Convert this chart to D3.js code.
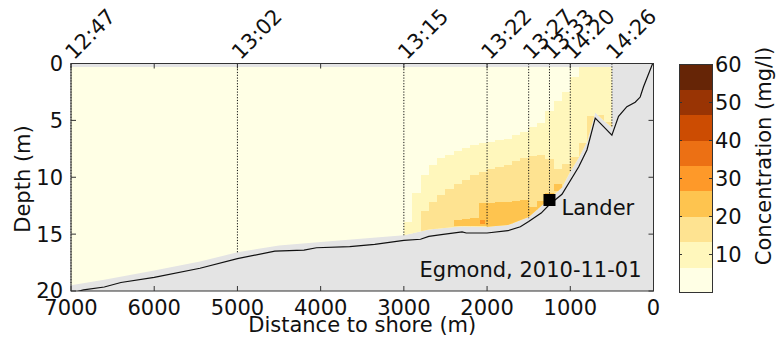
<!DOCTYPE html>
<html>
<head>
<meta charset="utf-8">
<script src="https://cdn.jsdelivr.net/npm/d3@7"></script>
<style>
  html, body { margin: 0; background: #fff; }
  svg { display: block; font-family: "DejaVu Sans", Verdana, sans-serif; }
</style>
</head>
<body>
<svg id="chart" width="777" height="345"></svg>
<script>
/* Egmond cross-shore transect: concentration field, bed, ship tracks. */

// colour classes (mg/l)
const levels = [0, 6.67, 13.33, 20, 26.67, 33.33, 40, 46.67, 53.33, 60];
const levelColors = ['#ffffe5', '#fff7bc', '#fee391', '#fec44f', '#fe9929',
  '#ec7014', '#cc4c02', '#993404', '#662506'];
const cbTicks = [10, 20, 30, 40, 50, 60];

const xTicks = [7000, 6000, 5000, 4000, 3000, 2000, 1000, 0];
const yTicks = [0, 5, 10, 15, 20];

// bathymetry
const bedDist = [7000, 6850, 6600, 6400, 6000, 5450, 5000, 4550, 4200, 4050, 3650, 3350,
  3000, 2800, 2700, 2550, 2300, 2250, 2000, 1750, 1600, 1500, 1350, 1250, 1100, 900,
  800, 700, 600, 500, 420, 320, 220, 160, 120, 10, 0];
const bedDepth = [20.2, 19.9, 19.65, 19.25, 18.8, 18.0, 17.15, 16.5, 16.4, 16.2, 16.1, 15.9,
  15.55, 15.45, 15.2, 15.05, 14.8, 14.9, 14.9, 14.7, 14.35, 13.9, 13.15, 12.4, 11.5, 9.1,
  7.6, 4.8, 5.55, 6.3, 4.65, 3.8, 3.4, 2.95, 2.05, 0, 0];

// lowest measured depth (field ends a little above the bed)
const fieldTop = 0.3;
const botDist = [7000, 6600, 6000, 5450, 5000, 4500, 4000, 3000, 2700, 2300, 2000, 1750,
  1500, 1250, 1100, 1000, 900, 800, 700, 600, 500];
const botDepth = [19.5, 19.0, 18.2, 17.4, 16.6, 16.0, 15.7, 15.1, 14.6, 14.3, 14.35, 14.2,
  13.5, 11.9, 10.9, 9.5, 8.3, 6.9, 4.3, 5.0, 5.6];

// profile columns (centre distance), depth where each class starts
const colDist = [2950, 2850, 2750, 2650, 2550, 2450, 2350, 2250, 2150, 2050, 1950, 1850,
  1750, 1650, 1550, 1450, 1350, 1250, 1150, 1050, 950, 850, 750, 650, 550];
const colStep = 100;
const top1 = [13.9, 11.4, 9.8, 8.9, 8.3, 8.0, 7.7, 7.4, 7.2, 7.0, 6.9, 6.7,
  6.6, 6.3, 6.0, 5.6, 5.2, 4.2, 3.3, 2.5, 1.2, 0.3, 0.3, 0.3, 0.3];
const top2 = [null, null, 13.0, 12.2, 11.6, 11.0, 10.6, 10.2, 9.8, 9.5, 9.3, 9.1,
  8.9, 8.6, 8.3, 8.1, 8.0, 8.4, 9.3, 8.8, 8.2, 7.0, 4.6, 4.5, 5.1];
const top3 = [null, null, null, null, null, null, 13.8, 13.7, 13.6, 12.3, 12.3, 12.2,
  12.2, 12.1, 12.0, 12.6, 12.1, 11.4, 10.6, null, null, null, null, null, null];
const bot3 = [null, null, null, null, null, null, 14.3, 14.3, 14.3, 14.3, 14.4, 14.4,
  14.3, 14.1, 13.8, 13.5, 13.0, 12.2, 11.2, null, null, null, null, null, null];

// small peak patch
const spotDist = [2060];
const spotTop = [13.75];
const spotBot = [14.1];
const spotLevel = [4];

// ship passes
const passTime = ['12:47', '13:02', '13:15', '13:22', '13:27', '13:33', '14:20', '14:26'];
const passDist = [7000, 5000, 3000, 2000, 1500, 1250, 1000, 500];
const passEnd = [19.5, 16.6, 15.1, 14.3, 13.6, 12.0, 9.5, 5.6];

const lander = { dist: 1250, depth: 12.0, label: 'Lander' };
const caption = 'Egmond, 2010-11-01';

/* ---------- layout ---------- */
const svg = d3.select('#chart');
const P = { l: 71, r: 653.5, t: 63.5, b: 291 };
const CB = { l: 679, r: 712, t: 64, b: 292.5 };
const FS = 21;

const x = d3.scaleLinear().domain([7000, 0]).range([P.l, P.r]);
const y = d3.scaleLinear().domain([0, 20]).range([P.t, P.b]);
const color = d3.scaleThreshold().domain(levels.slice(1, -1)).range(levelColors);

const defs = svg.append('defs');
defs.append('clipPath').attr('id', 'plot-clip')
  .append('rect').attr('x', P.l).attr('y', P.t).attr('width', P.r - P.l).attr('height', P.b - P.t);

const fieldOutline = [[7000, fieldTop], [500, fieldTop]]
  .concat(botDist.map((d, i) => [d, botDepth[i]]).reverse());
defs.append('clipPath').attr('id', 'field-clip')
  .append('path')
  .attr('d', d3.line().x(p => x(p[0])).y(p => y(p[1]))(fieldOutline) + 'Z');

// axes background (bed / no data)
svg.append('rect').attr('x', P.l).attr('y', P.t).attr('width', P.r - P.l).attr('height', P.b - P.t)
  .attr('fill', '#e4e4e4');

/* ---------- concentration field ---------- */
const field = svg.append('g').attr('clip-path', 'url(#field-clip)')
  .attr('shape-rendering', 'crispEdges');
field.append('rect')
  .attr('x', x(7000)).attr('y', y(0)).attr('width', x(500) - x(7000)).attr('height', y(20) - y(0))
  .attr('fill', color(levels[0]));

function cell(dist, w, d0, d1, k) {
  field.append('rect')
    .attr('x', x(dist + w / 2)).attr('y', y(d0))
    .attr('width', x(dist - w / 2) - x(dist + w / 2) + 0.6)
    .attr('height', y(d1) - y(d0))
    .attr('fill', color(levels[k]));
}
colDist.forEach((d, i) => {
  if (top1[i] != null) cell(d, colStep, top1[i], 20, 1);
  if (top2[i] != null) cell(d, colStep, top2[i], 20, 2);
  if (top3[i] != null) cell(d, colStep, top3[i], bot3[i], 3);
});
spotDist.forEach((d, i) => cell(d, colStep / 2, spotTop[i], spotBot[i], spotLevel[i]));

/* ---------- bed ---------- */
svg.append('path')
  .attr('clip-path', 'url(#plot-clip)')
  .attr('d', d3.line().x(d => x(d)).y((d, i) => y(bedDepth[i]))(bedDist))
  .attr('fill', 'none').attr('stroke', '#111').attr('stroke-width', 1.2);

/* ---------- ship passes ---------- */
passDist.forEach((d, i) => {
  svg.append('line')
    .attr('x1', x(d)).attr('x2', x(d)).attr('y1', y(0)).attr('y2', y(passEnd[i]))
    .attr('stroke', '#111').attr('stroke-width', 1).attr('stroke-dasharray', '1.2,1.6');
  svg.append('text')
    .attr('transform', `translate(${x(d) + 3},${P.t - 3}) rotate(-45)`)
    .attr('font-size', FS).attr('fill', '#111')
    .text(passTime[i]);
});

/* ---------- lander + caption ---------- */
svg.append('rect')
  .attr('x', x(lander.dist) - 6).attr('y', y(lander.depth) - 6).attr('width', 12).attr('height', 12)
  .attr('fill', '#000');
svg.append('text')
  .attr('x', x(lander.dist) + 12).attr('y', y(lander.depth) + 15)
  .attr('font-size', FS).attr('fill', '#111').text(lander.label);
svg.append('text')
  .attr('x', P.r - 12).attr('y', P.b - 14).attr('text-anchor', 'end')
  .attr('font-size', FS).attr('fill', '#111').text(caption);

/* ---------- frame + ticks ---------- */
const frame = svg.append('g').attr('stroke', '#333').attr('stroke-width', 1);
frame.append('rect').attr('x', P.l).attr('y', P.t).attr('width', P.r - P.l).attr('height', P.b - P.t)
  .attr('fill', 'none');
xTicks.forEach(t => {
  frame.append('line').attr('x1', x(t)).attr('x2', x(t)).attr('y1', P.b).attr('y2', P.b - 5);
  frame.append('line').attr('x1', x(t)).attr('x2', x(t)).attr('y1', P.t).attr('y2', P.t + 5);
  svg.append('text').attr('x', x(t)).attr('y', 315).attr('text-anchor', 'middle')
    .attr('font-size', FS).attr('fill', '#111').text(t);
});
yTicks.forEach(t => {
  frame.append('line').attr('x1', P.l).attr('x2', P.l + 5).attr('y1', y(t)).attr('y2', y(t));
  frame.append('line').attr('x1', P.r).attr('x2', P.r - 5).attr('y1', y(t)).attr('y2', y(t));
  svg.append('text').attr('x', 63).attr('y', y(t) - (t === 20 ? 1 : 0)).attr('dy', '0.36em')
    .attr('text-anchor', 'end')
    .attr('font-size', FS).attr('fill', '#111').text(t);
});

svg.append('text').attr('x', (P.l + P.r) / 2).attr('y', 332).attr('text-anchor', 'middle')
  .attr('font-size', FS).attr('fill', '#111').text('Distance to shore (m)');
svg.append('text').attr('transform', 'translate(30,179) rotate(-90)')
  .attr('text-anchor', 'middle').attr('font-size', FS).attr('fill', '#111').text('Depth (m)');

/* ---------- colorbar ---------- */
const cy = d3.scaleLinear().domain([0, 60]).range([CB.b, CB.t]);
const cb = svg.append('g').attr('shape-rendering', 'crispEdges');
levelColors.forEach((c, k) => {
  cb.append('rect').attr('x', CB.l).attr('width', CB.r - CB.l)
    .attr('y', cy(levels[k + 1])).attr('height', cy(levels[k]) - cy(levels[k + 1]) + 0.5)
    .attr('fill', color(levels[k]));
});
cb.append('rect').attr('x', CB.l).attr('y', CB.t).attr('width', CB.r - CB.l).attr('height', CB.b - CB.t)
  .attr('fill', 'none').attr('stroke', '#333');
cbTicks.forEach(t => {
  cb.append('line').attr('x1', CB.l).attr('x2', CB.l + 3).attr('y1', cy(t)).attr('y2', cy(t)).attr('stroke', '#333');
  cb.append('line').attr('x1', CB.r).attr('x2', CB.r - 3).attr('y1', cy(t)).attr('y2', cy(t)).attr('stroke', '#333');
  svg.append('text').attr('x', CB.r + 3).attr('y', cy(t)).attr('dy', '0.36em')
    .attr('font-size', FS).attr('fill', '#111').text(t);
});
svg.append('text').attr('transform', 'translate(771,156) rotate(-90)')
  .attr('text-anchor', 'middle').attr('font-size', FS).attr('fill', '#111').text('Concentration (mg/l)');
</script>
</body>
</html>
